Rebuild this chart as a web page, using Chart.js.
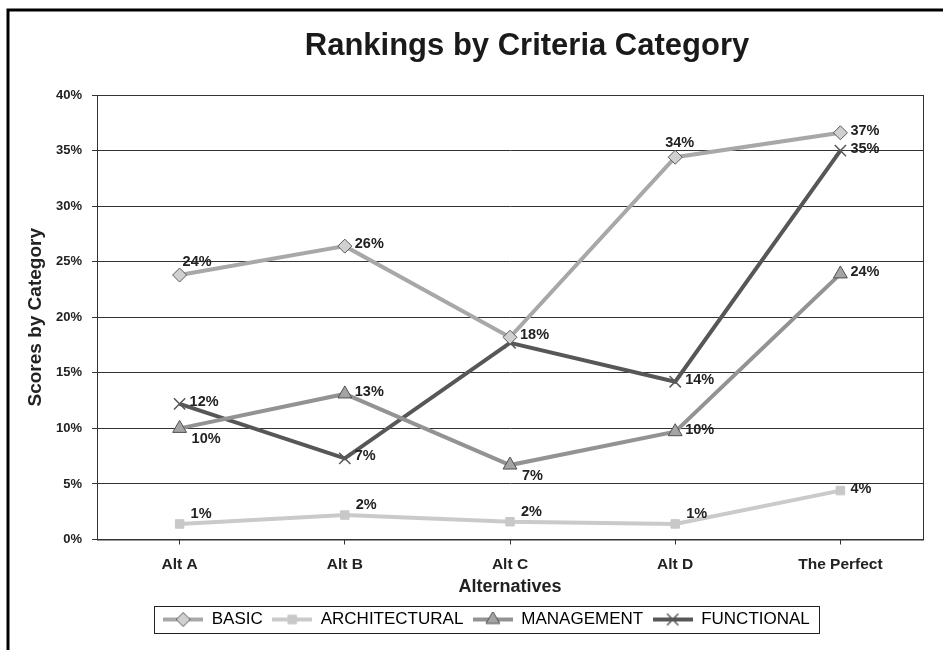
<!DOCTYPE html>
<html>
<head>
<meta charset="utf-8">
<script src="https://cdn.jsdelivr.net/npm/chart.js@4.4.1/dist/chart.umd.min.js"></script>
<style>
  html, body { margin: 0; padding: 0; background: #fff; }
  #wrap { width: 943px; height: 650px; }
</style>
</head>
<body>
<div id="wrap"><canvas id="rankings" width="943" height="650"></canvas></div>
<script>
const categories = ["Alt A", "Alt B", "Alt C", "Alt D", "The Perfect"];
const basic = [23.8, 26.4, 18.2, 34.4, 36.6];
const architectural = [1.4, 2.2, 1.6, 1.4, 4.4];
const management = [10.0, 13.1, 6.7, 9.7, 23.9];
const functional = [12.2, 7.3, 17.7, 14.2, 35.0];
const yMax = 40;
const yStep = 5;

// where each value label sits next to its point
const basicPos = ["ur", "r", "r", "u", "r"];
const archPos = ["tr", "tr", "tr", "tr", "r"];
const mgmtPos = ["dr", "r", "dr", "r", "r"];
const funcPos = ["r", "r", "none", "r", "r"];

const FONT = "'Liberation Sans', Arial, sans-serif";
const labelOffsets = { r: [10, -2], ur: [3, -13], tr: [11, -10], u: [-10, -14], dr: [12, 11] };

function legendIcon(color, width, pt) {
  const c = document.createElement("canvas");
  c.width = 40; c.height = 16;
  const ctx = c.getContext("2d");
  ctx.strokeStyle = color; ctx.lineWidth = width;
  ctx.beginPath(); ctx.moveTo(0, 8); ctx.lineTo(40, 8); ctx.stroke();
  ctx.fillStyle = pt.bg; ctx.strokeStyle = pt.border; ctx.lineWidth = pt.bw;
  Chart.helpers.drawPoint(ctx, { pointStyle: pt.style, radius: pt.r, borderWidth: pt.bw, rotation: 0 }, 20, 8);
  return c;
}

const series = [
  { label: "BASIC", data: basic, pos: basicPos, color: "#a8a8a8", pt: { style: "rectRot", r: 7, bg: "#d0d0d0", border: "#5a5a5a", bw: 1 } },
  { label: "ARCHITECTURAL", data: architectural, pos: archPos, color: "#cacaca", pt: { style: "rect", r: 6, bg: "#c8c8c8", border: "#c8c8c8", bw: 1 } },
  { label: "MANAGEMENT", data: management, pos: mgmtPos, color: "#939393", pt: { style: "triangle", r: 8, bg: "#a4a4a4", border: "#4f4f4f", bw: 1 } },
  { label: "FUNCTIONAL", data: functional, pos: funcPos, color: "#575757", pt: { style: "crossRot", r: 8, bg: "#575757", border: "#575757", bw: 1.5 } }
];

const frame = {
  id: "frame",
  afterLayout(chart) {
    // the legend box sits a little right of centre in the original
    chart.legend.left += 15;
    chart.legend.right += 15;
  },
  beforeDraw(chart) {
    const ctx = chart.ctx;
    ctx.save();
    ctx.strokeStyle = "#000"; ctx.lineWidth = 3;
    ctx.beginPath(); ctx.moveTo(8, 650); ctx.lineTo(8, 10); ctx.lineTo(943, 10); ctx.stroke();
    ctx.restore();
  },
  afterDraw(chart) {
    const ctx = chart.ctx, a = chart.chartArea;
    ctx.save();
    ctx.strokeStyle = "#333"; ctx.lineWidth = 1;
    ctx.strokeRect(a.left + 0.5, a.top + 0.5, a.right - a.left, a.bottom - a.top);
    ctx.fillStyle = "#1a1a1a";
    ctx.font = "bold 31px " + FONT;
    ctx.textAlign = "center"; ctx.textBaseline = "middle";
    ctx.fillText("Rankings by Criteria Category", 527, 46);
    const boxes = chart.legend.legendHitBoxes;
    if (boxes.length) {
      const l = Math.min(...boxes.map(b => b.left)) - 9;
      const r = Math.max(...boxes.map(b => b.left + b.width)) + 9;
      const t = boxes[0].top - 5, h = boxes[0].height + 10;
      ctx.strokeStyle = "#222";
      ctx.strokeRect(Math.round(l) + 0.5, Math.round(t) + 0.5, Math.round(r - l), Math.round(h));
    }
    ctx.restore();
  },
  afterDatasetsDraw(chart) {
    const ctx = chart.ctx;
    ctx.save();
    ctx.font = "bold 14.5px " + FONT;
    ctx.fillStyle = "#222";
    ctx.textBaseline = "middle"; ctx.textAlign = "left";
    chart.data.datasets.forEach((ds, i) => {
      chart.getDatasetMeta(i).data.forEach((p, j) => {
        const code = series[i].pos[j];
        if (code === "none") return;
        const o = labelOffsets[code];
        ctx.fillText(Math.round(ds.data[j]) + "%", p.x + o[0], p.y + o[1]);
      });
    });
    ctx.restore();
  }
};

new Chart("rankings", {
  type: "line",
  data: {
    labels: categories,
    datasets: series.map(s => ({
      label: s.label,
      data: s.data,
      borderColor: s.color,
      borderWidth: 4,
      tension: 0,
      pointStyle: s.pt.style,
      pointRadius: s.pt.r,
      pointBackgroundColor: s.pt.bg,
      pointBorderColor: s.pt.border,
      pointBorderWidth: s.pt.bw,
      icon: legendIcon(s.color, 4, s.pt)
    }))
  },
  options: {
    responsive: false,
    animation: false,
    layout: { padding: { top: 95, left: 20, right: 20, bottom: 12 } },
    plugins: {
      title: { display: false },
      tooltip: { enabled: false },
      legend: {
        position: "bottom",
        labels: {
          usePointStyle: true,
          pointStyleWidth: 40,
          padding: 9.5,
          color: "#222",
          font: { family: FONT, size: 17 },
          generateLabels(chart) {
            return chart.data.datasets.map((ds, i) => ({
              text: ds.label, pointStyle: ds.icon, datasetIndex: i,
              fillStyle: ds.borderColor, strokeStyle: ds.borderColor, lineWidth: 0, hidden: false
            }));
          }
        }
      }
    },
    scales: {
      x: {
        offset: true,
        afterFit(s) { s.height = 62; },
        grid: { drawOnChartArea: false, drawTicks: true, tickLength: 5, color: "#333" },
        border: { color: "#333" },
        ticks: { color: "#222", padding: 11, font: { family: FONT, size: 15.5, weight: "bold" } },
        title: { display: true, text: "Alternatives", color: "#222", font: { family: FONT, size: 18, weight: "bold" } }
      },
      y: {
        min: 0, max: yMax,
        afterFit(s) { s.width = 77; },
        grid: { color: "#333", tickLength: 5 },
        border: { color: "#333" },
        ticks: { stepSize: yStep, color: "#222", padding: 10, callback: v => v + "%", font: { family: FONT, size: 13, weight: "bold" } },
        title: { display: true, text: "Scores by Category", color: "#222", font: { family: FONT, size: 19, weight: "bold" } }
      }
    }
  },
  plugins: [frame]
});
</script>
</body>
</html>
